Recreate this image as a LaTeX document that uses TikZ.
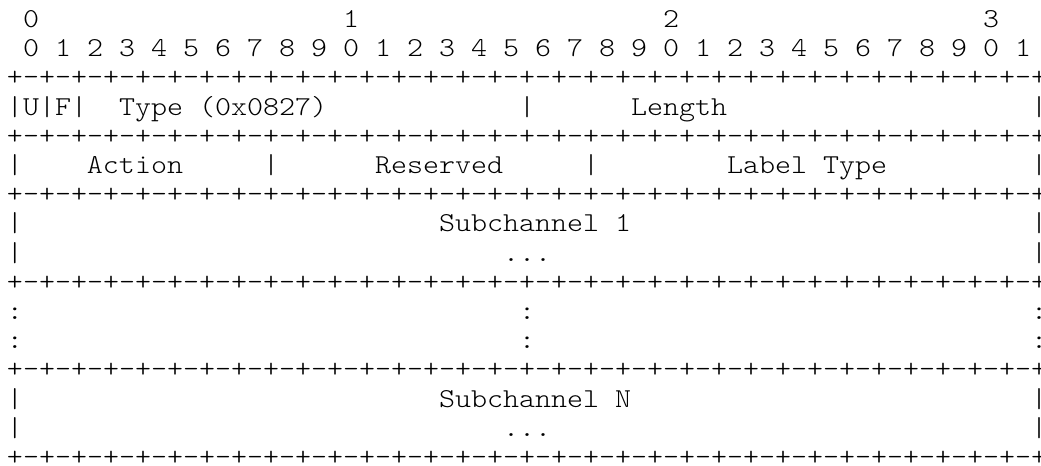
\documentclass[tikz,border=0pt]{standalone}
\usepackage{graphicx}
\newlength\chw
\setlength\chw{10.7625pt}
\newcommand\gp[1]{\hspace*{#1\chw}}
\newcommand\bq{+-+-+-+-+-+-+-+-}
\newcommand\brd{\bq\bq\bq\bq+}
\newcommand\wide[1]{\scalebox{1.1151}[1]{#1}}
\begin{document}
\begin{tikzpicture}[x=0.75pt,y=-0.75pt,
  ln/.style={anchor=base west,inner sep=0pt,outer sep=0pt,text=black,
    font=\fontsize{20.5}{24}\ttfamily\fontseries{l}\selectfont}]
\fill[white] (0,0) rectangle (1041,466);
\useasboundingbox (0,0) rectangle (1041,466);
\def\lx{7}
\node[ln] (l1)  at (\lx,27.5)  {\wide{\gp{1}0\gp{19}1\gp{19}2\gp{19}3}};
\node[ln] (l2)  at (\lx,56.7)  {\wide{\gp{1}0\gp{1}1\gp{1}2\gp{1}3\gp{1}4\gp{1}5\gp{1}6\gp{1}7\gp{1}8\gp{1}9\gp{1}0\gp{1}1\gp{1}2\gp{1}3\gp{1}4\gp{1}5\gp{1}6\gp{1}7\gp{1}8\gp{1}9\gp{1}0\gp{1}1\gp{1}2\gp{1}3\gp{1}4\gp{1}5\gp{1}6\gp{1}7\gp{1}8\gp{1}9\gp{1}0\gp{1}1}};
\node[ln] (l3)  at (\lx,85.9)  {\wide{\brd}};
\node[ln] (l4)  at (\lx,115.1) {\wide{|U|F|\gp{2}Type\gp{1}(0x0827)\gp{12}|\gp{6}Length\gp{19}|}};
\node[ln] (l5)  at (\lx,144.3) {\wide{\brd}};
\node[ln] (l6)  at (\lx,173.5) {\wide{|\gp{4}Action\gp{5}|\gp{6}Reserved\gp{5}|\gp{8}Label\gp{1}Type\gp{9}|}};
\node[ln] (l7)  at (\lx,202.7) {\wide{\brd}};
\node[ln] (l8)  at (\lx,231.9) {\wide{|\gp{26}Subchannel\gp{1}1\gp{25}|}};
\node[ln] (l9)  at (\lx,261.1) {\wide{|\gp{30}...\gp{30}|}};
\node[ln] (l10) at (\lx,290.3) {\wide{\brd}};
\node[ln] (l11) at (\lx,319.5) {\wide{:\gp{31}:\gp{31}:}};
\node[ln] (l12) at (\lx,348.7) {\wide{:\gp{31}:\gp{31}:}};
\node[ln] (l13) at (\lx,377.9) {\wide{\brd}};
\node[ln] (l14) at (\lx,407.1) {\wide{|\gp{26}Subchannel\gp{1}N\gp{25}|}};
\node[ln] (l15) at (\lx,436.3) {\wide{|\gp{30}...\gp{30}|}};
\node[ln] (l16) at (\lx,465.5) {\wide{\brd}};
\end{tikzpicture}
\end{document}
